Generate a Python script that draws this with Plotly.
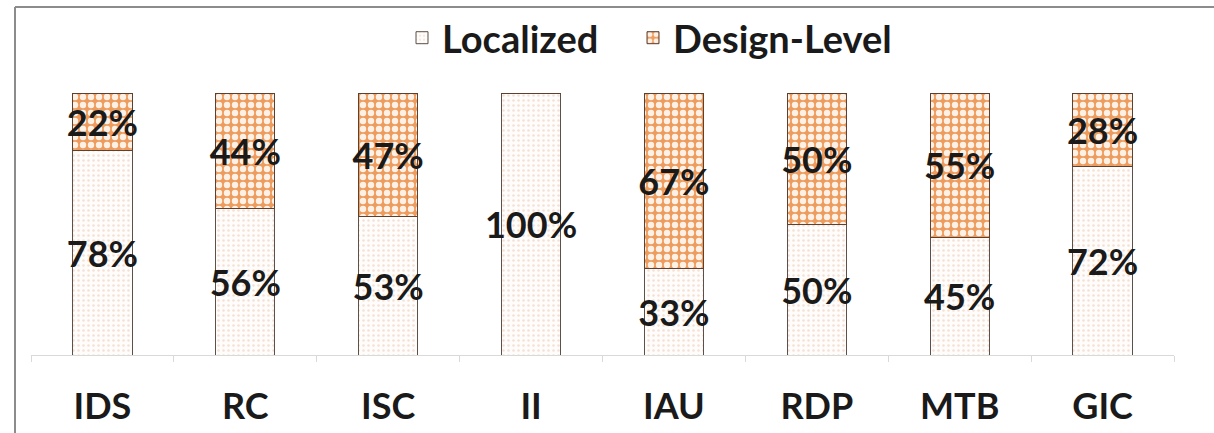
import plotly.graph_objects as go

# Share of issues per category, in percent
categories = ["IDS", "RC", "ISC", "II", "IAU", "RDP", "MTB", "GIC"]
localized = [78, 56, 53, 100, 33, 50, 45, 72]
design_level = [22, 44, 47, 0, 67, 50, 55, 28]

FONT = "Lato"
W, H = 1214, 433
ML, MR, MT, MB = 31, 40, 93, 78
PW = W - ML - MR

fig = go.Figure()

fig.add_trace(go.Bar(
    name="Localized",
    x=categories,
    y=localized,
    text=[f"{v}%" for v in localized],
    legend="legend",
    marker=dict(
        color="white",
        line=dict(color="#5c5048", width=1),
        pattern=dict(shape=".", fgcolor="#f6e0d4", bgcolor="#fffdfb",
                     size=5, solidity=0.2, fillmode="replace"),
    ),
))

fig.add_trace(go.Bar(
    name="Design-Level",
    x=categories,
    y=design_level,
    text=[f"{v}%" if v > 0 else "" for v in design_level],
    legend="legend2",
    marker=dict(
        color="#f0a266",
        line=dict(color="#5c4030", width=1),
        pattern=dict(shape=".", fgcolor="#fdf1e6", bgcolor="#ee9c5e",
                     size=8, solidity=0.5, fillmode="replace"),
    ),
))

fig.update_traces(
    textposition="inside",
    insidetextanchor="middle",
    constraintext="none",
    textangle=0,
    textfont=dict(family=FONT, size=36, color="#1a1a1a", weight="bold"),
    cliponaxis=False,
)

fx = -(ML - 15) / PW
fy = 1 + (MT - 7) / (H - MT - MB)

legend_style = dict(
    orientation="h",
    xanchor="left",
    xref="paper",
    y=0.985,
    yref="container",
    yanchor="top",
    font=dict(family=FONT, size=38, color="#1a1a1a", weight="bold"),
    itemwidth=30,
    bgcolor="rgba(0,0,0,0)",
)

fig.update_layout(
    width=W,
    height=H,
    barmode="stack",
    bargap=0.585,
    paper_bgcolor="white",
    plot_bgcolor="white",
    margin=dict(l=ML, r=MR, t=MT, b=MB, autoexpand=False),
    font=dict(family=FONT, color="#1a1a1a"),
    showlegend=True,
    legend=dict(legend_style, x=(402 - ML) / PW),
    legend2=dict(legend_style, x=(633 - ML) / PW),
    xaxis=dict(
        automargin=False,
        showline=True,
        linecolor="#d9d9d9",
        linewidth=1,
        ticks="outside",
        tickson="boundaries",
        ticklen=6,
        tickcolor="#d9d9d9",
        showgrid=False,
        tickfont=dict(family=FONT, size=36, color="#1a1a1a", weight="bold"),
        ticklabelstandoff=20,
    ),
    yaxis=dict(
        automargin=False,
        range=[0, 100],
        visible=False,
        showgrid=False,
    ),
    shapes=[
        # Outer frame: top and left edges of the chart box
        dict(type="line", xref="paper", yref="paper",
             x0=fx, x1=1.2, y0=fy, y1=fy,
             line=dict(color="#8c8c8c", width=2)),
        dict(type="line", xref="paper", yref="paper",
             x0=fx, x1=fx, y0=fy, y1=-0.5,
             line=dict(color="#8c8c8c", width=2)),
    ],
)

fig.write_html("out.html")
